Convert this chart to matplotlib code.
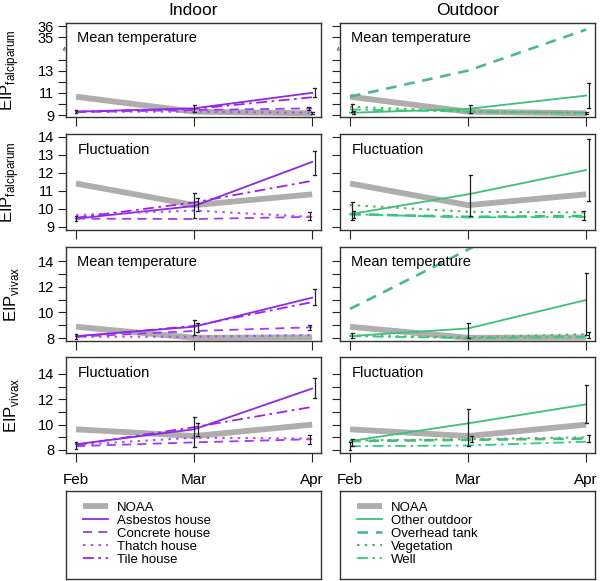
import matplotlib
matplotlib.use("Agg")
import matplotlib.pyplot as plt

plt.rcParams["font.family"] = ["Liberation Sans", "DejaVu Sans"]
plt.rcParams["mathtext.fontset"] = "custom"
plt.rcParams["mathtext.rm"] = "Liberation Sans"

# ── Data ──────────────────────────────────────────────────────────────────────
months = ["Feb", "Mar", "Apr"]
xpos = [0, 1, 2]

# falciparum, mean temperature
fal_mean_noaa = [10.65, 9.3, 9.15]
fal_mean_indoor = {
    "Asbestos house": [9.3, 9.6, 11.0],
    "Concrete house": [9.25, 9.45, 9.6],
    "Thatch house":   [9.3, 9.3, 9.2],
    "Tile house":     [9.3, 9.55, 10.6],
}
fal_mean_outdoor = {
    "Other outdoor": [9.2, 9.55, 10.75],
    "Overhead tank": [10.65, 13.0, 35.7],
    "Vegetation":    [9.75, 9.3, 9.2],
    "Well":          [9.5, 9.3, 9.2],
}
# falciparum, fluctuation
fal_fluct_noaa = [11.4, 10.2, 10.8]
fal_fluct_indoor = {
    "Asbestos house": [9.45, 10.15, 12.6],
    "Concrete house": [9.45, 9.43, 9.55],
    "Thatch house":   [9.65, 9.9, 9.55],
    "Tile house":     [9.5, 10.35, 11.55],
}
fal_fluct_outdoor = {
    "Other outdoor": [9.7, 10.8, 12.15],
    "Overhead tank": [9.7, 9.55, 9.6],
    "Vegetation":    [10.2, 9.83, 9.8],
    "Well":          [9.7, 9.52, 9.55],
}
# vivax, mean temperature
viv_mean_noaa = [8.88, 8.02, 8.05]
viv_mean_indoor = {
    "Asbestos house": [8.15, 8.88, 11.15],
    "Concrete house": [8.1, 8.55, 8.84],
    "Thatch house":   [8.1, 8.1, 8.23],
    "Tile house":     [8.1, 8.95, 10.8],
}
viv_mean_outdoor = {
    "Other outdoor": [8.15, 8.75, 10.97],
    "Overhead tank": [10.27, 14.9, 20.0],
    "Vegetation":    [8.2, 8.05, 8.3],
    "Well":          [8.15, 8.0, 8.1],
}
# vivax, fluctuation
viv_fluct_noaa = [9.63, 9.1, 10.0]
viv_fluct_indoor = {
    "Asbestos house": [8.45, 9.63, 12.85],
    "Concrete house": [8.3, 8.6, 8.85],
    "Thatch house":   [8.4, 8.97, 8.9],
    "Tile house":     [8.4, 9.8, 11.4],
}
viv_fluct_outdoor = {
    "Other outdoor": [8.7, 10.1, 11.6],
    "Overhead tank": [8.7, 8.8, 8.9],
    "Vegetation":    [8.75, 8.85, 9.0],
    "Well":          [8.3, 8.35, 8.65],
}

# error bars: (x, low, high)
fal_mean_indoor_err = [(0, 9.15, 9.45), (1, 9.3, 9.9), (2.02, 10.6, 11.4),
                       (1.97, 9.45, 9.7), (2, 9.1, 9.3)]
fal_mean_outdoor_err = [(0.02, 9.3, 10.0), (0.03, 9.1, 9.4), (1.02, 9.2, 9.9),
                        (2.02, 9.6, 11.9), (2, 9.1, 9.3)]
fal_fluct_indoor_err = [(0, 9.3, 9.6), (1, 9.5, 10.9), (1.03, 9.9, 10.6),
                        (2.02, 11.9, 13.2), (1.98, 9.35, 9.8)]
fal_fluct_outdoor_err = [(0.02, 9.4, 10.4), (0.03, 9.5, 9.9), (1.02, 9.6, 11.9),
                         (2.02, 10.45, 13.9), (1.98, 9.4, 9.9)]
viv_mean_indoor_err = [(0, 7.95, 8.3), (1, 8.2, 9.4), (1.03, 8.5, 9.2),
                       (2.02, 10.6, 11.85), (1.98, 8.6, 9.0)]
viv_mean_outdoor_err = [(0.02, 8.0, 8.4), (1.0, 8.0, 9.2), (2.0, 8.2, 13.1),
                        (2.02, 8.0, 8.5)]
viv_fluct_indoor_err = [(0, 8.1, 8.6), (1, 8.25, 10.6), (1.03, 9.1, 10.1),
                        (2.02, 12.1, 13.7), (1.98, 8.5, 9.2)]
viv_fluct_outdoor_err = [(0.02, 8.3, 8.9), (0.0, 8.0, 8.6), (1.0, 8.3, 11.2),
                         (1.03, 8.6, 9.1), (2.0, 10.1, 13.1), (2.02, 8.6, 9.2)]

# ── Styles ────────────────────────────────────────────────────────────────────
NOAA_STYLE = dict(color="#b0aeac", lw=4.2, solid_capstyle="butt")
STYLES = {
    "Asbestos house": dict(color="#8a2be2", ls="-", lw=1.3),
    "Concrete house": dict(color="#9b3cf0", ls=(0, (5, 3.5)), lw=1.3),
    "Thatch house":   dict(color="#a855f7", ls=(0, (1.2, 2.5)), lw=1.5),
    "Tile house":     dict(color="#a020f0", ls=(0, (6, 2.5, 1.5, 2.5)), lw=1.3),
    "Other outdoor":  dict(color="#3cc07a", ls="-", lw=1.3),
    "Overhead tank":  dict(color="#4db887", ls=(0, (4, 3)), lw=1.9),
    "Vegetation":     dict(color="#5ab45a", ls=(0, (1.2, 2.5)), lw=1.5),
    "Well":           dict(color="#2ecc80", ls=(0, (6, 2.5, 1.5, 2.5)), lw=1.3),
}


def squash(v):
    # axis break between 14 and 35 in the first row
    return v if v <= 14.5 else v - 19


W, H = 600, 581
fig = plt.figure(figsize=(W / 100, H / 100), dpi=100)


def px_axes(x0, y0, x1, y1):
    return fig.add_axes([x0 / W, 1 - y1 / H, (x1 - x0) / W, (y1 - y0) / H])


cols = [(66, 321), (340, 595)]
rows = [(23, 117), (134, 230), (247, 341), (357, 453)]

panels = [
    ("Mean temperature", fal_mean_noaa, fal_mean_indoor, fal_mean_outdoor,
     fal_mean_indoor_err, fal_mean_outdoor_err, (8.82, 17.29), "falciparum", True),
    ("Fluctuation", fal_fluct_noaa, fal_fluct_indoor, fal_fluct_outdoor,
     fal_fluct_indoor_err, fal_fluct_outdoor_err, (8.82, 14.15), "falciparum", False),
    ("Mean temperature", viv_mean_noaa, viv_mean_indoor, viv_mean_outdoor,
     viv_mean_indoor_err, viv_mean_outdoor_err, (7.77, 15.1), "vivax", False),
    ("Fluctuation", viv_fluct_noaa, viv_fluct_indoor, viv_fluct_outdoor,
     viv_fluct_indoor_err, viv_fluct_outdoor_err, (7.76, 15.34), "vivax", False),
]

legend_handles = [None, None]

for r, (title, noaa, indoor, outdoor, err_in, err_out, ylim, species, broken) in enumerate(panels):
    tf = squash if broken else (lambda v: v)
    for c, (series, errs) in enumerate([(indoor, err_in), (outdoor, err_out)]):
        ax = px_axes(cols[c][0], rows[r][0], cols[c][1], rows[r][1])
        hs = []
        h, = ax.plot(xpos, [tf(v) for v in noaa], label="NOAA", zorder=1, **NOAA_STYLE)
        hs.append(h)
        for name, vals in series.items():
            h, = ax.plot(xpos, [tf(v) for v in vals], label=name, zorder=2, **STYLES[name])
            hs.append(h)
        for x, lo, hi in errs:
            ax.plot([x, x], [tf(lo), tf(hi)], color="#222222", lw=0.9, zorder=3)
            for yv in (lo, hi):
                ax.plot([x - 0.012, x + 0.012], [tf(yv), tf(yv)], color="#222222",
                        lw=0.9, zorder=3)
        legend_handles[c] = hs

        ax.set_xlim(-0.085, 2.075)
        ax.set_ylim(*ylim)
        if broken:
            ticks = [9, 10, 11, 12, 13, 14, 35, 36]
            ax.set_yticks([squash(t) for t in ticks])
            labs = ["9", "", "11", "", "13", "", "35", "36"]
        elif species == "falciparum":
            ticks = [9, 10, 11, 12, 13, 14]
            ax.set_yticks(ticks)
            labs = [str(t) for t in ticks]
        else:
            ticks = [8, 9, 10, 11, 12, 13, 14]
            ax.set_yticks(ticks)
            labs = [str(t) if t % 2 == 0 else "" for t in ticks]
        ax.set_yticklabels(labs if c == 0 else [""] * len(ticks), fontsize=10.5)
        ax.tick_params(axis="y", direction="out", length=5.5, width=0.8, pad=3,
                       colors="#222222", labelcolor="black")
        ax.set_xticks(xpos)
        ax.set_xticklabels(months if r == 3 else ["", "", ""], fontsize=11)
        ax.tick_params(axis="x", direction="out", length=6.5, width=0.8, pad=8,
                       colors="#222222", labelcolor="black")
        for sp in ax.spines.values():
            sp.set_color("#333333")
            sp.set_linewidth(1.0)
        ax.text(0.045, 0.91, title, transform=ax.transAxes, fontsize=10.5,
                va="top", ha="left")
        if broken:
            ax.text(-0.002, (15.0 - ylim[0]) / (ylim[1] - ylim[0]), "\u2248",
                    transform=ax.transAxes, fontsize=6, rotation=60,
                    ha="center", va="center", clip_on=False)
        if c == 0:
            ax.set_ylabel(r"EIP$_{\mathregular{%s}}$" % species, fontsize=12)
            ax.yaxis.set_label_coords(-0.175, 0.5)
        if r == 0:
            ax.set_title(["Indoor", "Outdoor"][c], fontsize=12.5, pad=6)

# ── Legend boxes ──────────────────────────────────────────────────────────────
for c in range(2):
    lax = px_axes(cols[c][0], 491, cols[c][1], 579)
    lax.set_xticks([])
    lax.set_yticks([])
    for sp in lax.spines.values():
        sp.set_color("#333333")
        sp.set_linewidth(1.0)
    hs = legend_handles[c]
    lax.legend(hs, [h.get_label() for h in hs], loc="upper left",
               bbox_to_anchor=(0.045, 0.94), frameon=False, fontsize=9.5,
               handlelength=1.9, handletextpad=0.7, labelspacing=0.06,
               borderaxespad=0.0)

fig.savefig("out.png", dpi=100)
